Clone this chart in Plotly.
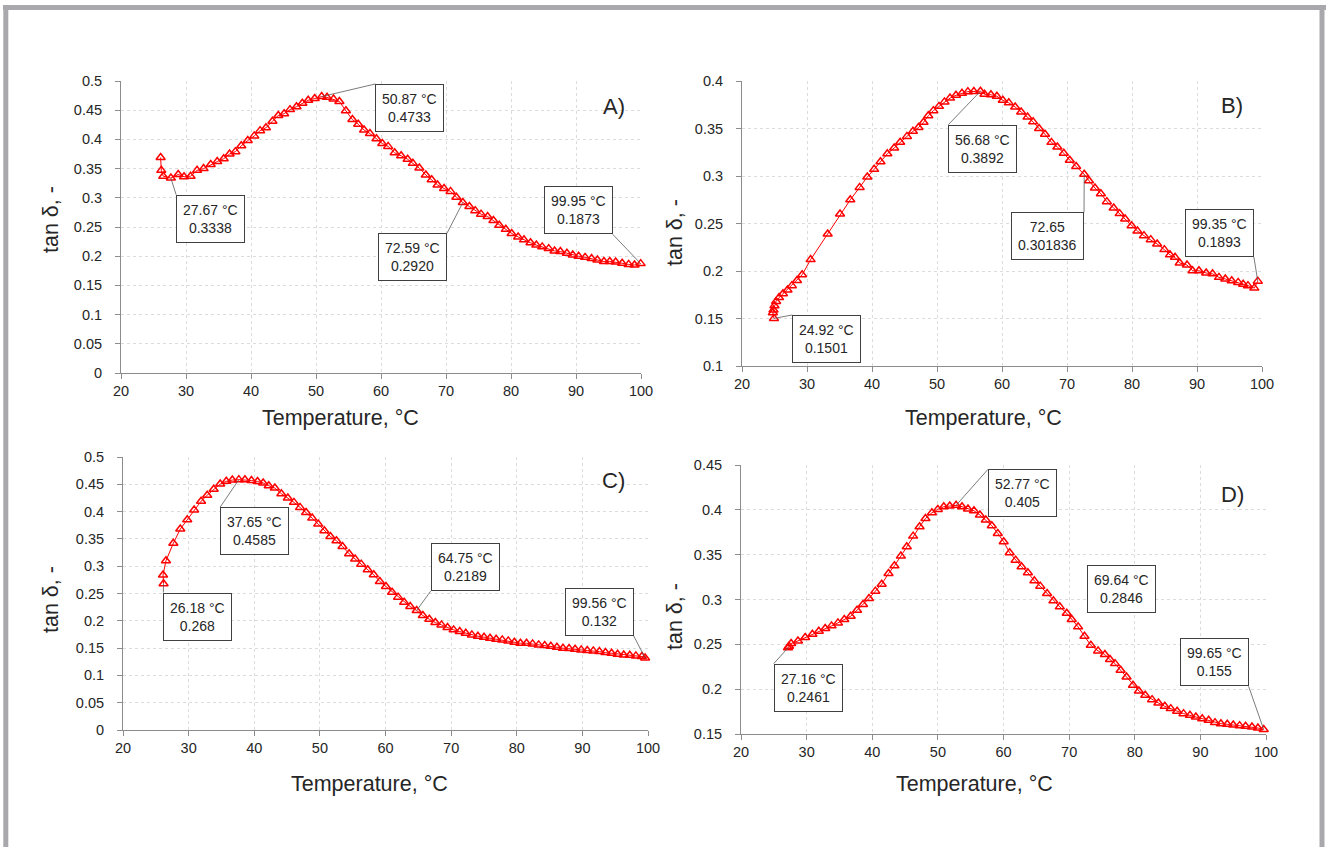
import plotly.graph_objects as go

W, H = 1327, 847

# ---------------- data ----------------
tA = [26.1, 26.2, 26.5, 27.67, 28.8, 29.7, 30.7, 31.7, 32.7, 33.8, 34.8, 35.8, 36.7, 37.6, 38.5,
      39.5, 40.5, 41.4, 42.3, 43.3, 44.2, 45.1, 46.0, 47.0, 47.9, 48.8, 49.8, 50.87, 51.7, 52.7,
      53.6, 54.6, 55.6, 56.5, 57.4, 58.3, 59.3, 60.2, 61.1, 62.1, 63.1, 64.1, 64.9, 65.9, 66.9,
      67.8, 68.7, 69.7, 70.7, 71.6, 72.59, 73.6, 74.5, 75.4, 76.4, 77.3, 78.2, 79.2, 80.1, 81.1,
      82.0, 83.0, 83.9, 84.8, 85.8, 86.7, 87.6, 88.6, 89.5, 90.4, 91.4, 92.4, 93.3, 94.3, 95.2,
      96.1, 97.1, 98.1, 99.0, 99.95]
dA = [0.369, 0.347, 0.337, 0.3338, 0.340, 0.336, 0.337, 0.347, 0.350, 0.357, 0.362, 0.367, 0.375, 0.379, 0.389,
      0.398, 0.406, 0.415, 0.420, 0.431, 0.441, 0.444, 0.451, 0.456, 0.462, 0.467, 0.470, 0.4733, 0.472, 0.469,
      0.465, 0.449, 0.434, 0.426, 0.416, 0.410, 0.401, 0.393, 0.388, 0.377, 0.372, 0.366, 0.359, 0.351, 0.339,
      0.331, 0.322, 0.316, 0.311, 0.301, 0.2920, 0.285, 0.278, 0.272, 0.268, 0.261, 0.253, 0.246, 0.239, 0.233,
      0.228, 0.223, 0.219, 0.216, 0.213, 0.209, 0.208, 0.205, 0.202, 0.200, 0.198, 0.196, 0.1935, 0.191, 0.191,
      0.190, 0.188, 0.186, 0.185, 0.1873]

tB = [24.92, 24.75, 24.85, 25.0, 25.25, 25.7, 26.3, 27.0, 27.67, 28.46, 29.25, 30.56, 33.18, 35.08, 36.66,
      38.10, 39.28, 40.33, 41.31, 42.36, 43.41, 44.33, 45.38, 46.30, 47.15, 47.93, 48.66, 49.44, 50.30, 51.15,
      52.0, 52.92, 53.84, 54.75, 55.67, 56.68, 57.31, 58.30, 59.21, 60.13, 61.05, 62.03, 62.95, 63.93, 64.79,
      65.70, 66.62, 67.61, 68.52, 69.51, 70.43, 71.41, 72.65, 73.38, 74.30, 75.21, 76.13, 77.18, 78.10, 78.95,
      79.93, 80.85, 81.84, 82.89, 83.87, 84.98, 85.84, 86.62, 87.34, 88.46, 89.31, 90.30, 91.41, 92.39, 93.38,
      94.36, 95.34, 96.33, 97.1, 97.84, 98.82, 99.35]
dB = [0.1501, 0.156, 0.159, 0.1635, 0.168, 0.172, 0.176, 0.180, 0.1846, 0.190, 0.196, 0.212, 0.239, 0.260, 0.275,
      0.288, 0.299, 0.307, 0.315, 0.3235, 0.3295, 0.3356, 0.3417, 0.347, 0.351, 0.3565, 0.3635, 0.3688, 0.3733, 0.378,
      0.382, 0.385, 0.387, 0.3888, 0.3890, 0.3892, 0.386, 0.3855, 0.384, 0.3797, 0.377, 0.3726, 0.3674, 0.362, 0.357,
      0.350, 0.344, 0.3354, 0.3305, 0.324, 0.3165, 0.310, 0.301836, 0.295, 0.2874, 0.2814, 0.273, 0.2663, 0.2604, 0.2547,
      0.2477, 0.242, 0.2372, 0.233, 0.2284, 0.2225, 0.217, 0.2144, 0.2084, 0.2063, 0.2003, 0.2003, 0.1979, 0.197, 0.1933,
      0.1916, 0.1898, 0.188, 0.186, 0.1846, 0.182, 0.1893]

tC = [26.18, 26.1, 26.55, 27.67, 28.73, 29.79, 30.84, 31.9, 32.83, 33.82, 34.81, 35.74, 36.66, 37.65, 38.58,
      39.57, 40.5, 41.36, 42.21, 43.14, 44.13, 45.12, 46.05, 46.98, 47.9, 48.83, 49.75, 50.68, 51.6, 52.53,
      53.45, 54.45, 55.37, 56.3, 57.29, 58.21, 59.14, 60.07, 61.0, 61.92, 62.84, 63.77, 64.75, 65.69, 66.68,
      67.6, 68.53, 69.45, 70.38, 71.31, 72.23, 73.16, 74.08, 75.01, 75.93, 76.86, 77.79, 78.71, 79.64, 80.56,
      81.49, 82.41, 83.34, 84.26, 85.19, 86.12, 87.04, 87.97, 88.89, 89.82, 90.74, 91.67, 92.6, 93.52, 94.45,
      95.37, 96.3, 97.22, 98.15, 99.07, 99.56]
dC = [0.268, 0.284, 0.310, 0.342, 0.368, 0.385, 0.403, 0.419, 0.430, 0.441, 0.4505, 0.4555, 0.4578, 0.4585, 0.4582,
      0.457, 0.4552, 0.4525, 0.4474, 0.4431, 0.4328, 0.4248, 0.4169, 0.4077, 0.3985, 0.3881, 0.3771, 0.3649, 0.3545, 0.3466,
      0.3362, 0.3227, 0.313, 0.3038, 0.2934, 0.2842, 0.272, 0.2628, 0.2524, 0.2433, 0.2341, 0.2262, 0.2189, 0.2097, 0.2029,
      0.1968, 0.1925, 0.1877, 0.1834, 0.1803, 0.1773, 0.1742, 0.1718, 0.1700, 0.1681, 0.1663, 0.1650, 0.1632, 0.1608, 0.1589,
      0.1589, 0.1577, 0.1559, 0.1546, 0.1534, 0.1516, 0.1498, 0.1491, 0.1479, 0.1467, 0.1455, 0.1449, 0.1436, 0.1418, 0.1406,
      0.1388, 0.1375, 0.1369, 0.1357, 0.1345, 0.132]

tD = [27.16, 27.32, 27.64, 28.68, 29.78, 30.88, 31.85, 32.83, 33.8, 34.77, 35.74, 36.71, 37.68, 38.59, 39.5,
      40.47, 41.44, 42.48, 43.38, 44.36, 45.26, 46.23, 47.21, 48.11, 49.09, 49.99, 50.9, 51.81, 52.77, 53.68,
      54.59, 55.5, 56.41, 57.31, 58.22, 59.13, 60.03, 60.94, 61.85, 62.75, 63.72, 64.7, 65.6, 66.64, 67.61,
      68.58, 69.64, 70.4, 71.37, 72.34, 73.31, 74.41, 75.45, 76.23, 77.0, 77.85, 78.75, 79.73, 80.63, 81.6,
      82.64, 83.61, 84.58, 85.49, 86.46, 87.43, 88.41, 89.31, 90.28, 91.26, 92.23, 93.13, 94.1, 95.01, 95.98,
      96.89, 97.86, 98.77, 99.65]
dD = [0.2461, 0.2479, 0.2509, 0.2538, 0.2576, 0.2613, 0.2646, 0.2676, 0.2706, 0.2739, 0.2777, 0.2814, 0.2881, 0.2944, 0.3011,
      0.3093, 0.3171, 0.329, 0.3376, 0.3484, 0.3588, 0.3707, 0.3811, 0.3904, 0.3967, 0.4005, 0.4035, 0.4042, 0.405, 0.4035,
      0.4009, 0.399, 0.3942, 0.3886, 0.3823, 0.3737, 0.3644, 0.3521, 0.3439, 0.3365, 0.3298, 0.3208, 0.3149, 0.3067, 0.2985,
      0.2918, 0.2846, 0.2777, 0.2695, 0.2591, 0.249, 0.2427, 0.2386, 0.233, 0.2285, 0.2211, 0.2136, 0.2043, 0.198, 0.1932,
      0.1883, 0.1846, 0.1809, 0.1783, 0.1753, 0.1727, 0.1708, 0.169, 0.1671, 0.1653, 0.1627, 0.1615, 0.1608, 0.16, 0.1593,
      0.1586, 0.1578, 0.1567, 0.155]

panel_labels = ["A)", "B)", "C)", "D)"]
x_title = "Temperature, °C"
y_title = "tan δ, -"
x_range = [20, 100]
y_ranges = [[0, 0.5], [0.1, 0.4], [0, 0.5], [0.15, 0.45]]

# callouts: (point T, point value, box-corner T, box-corner value, xanchor, yanchor, leader)
callA = [(50.87, 0.4733, 59.13, 0.4949, "left", "top", True),
         (27.67, 0.3338, 28.48, 0.3054, "left", "top", True),
         (72.59, 0.2920, 70.15, 0.2392, "right", "top", True),
         (99.95, 0.1873, 95.66, 0.2374, "right", "bottom", True)]
textA = ["50.87 °C<br>0.4733", "27.67 °C<br>0.3338", "72.59 °C<br>0.2920", "99.95 °C<br>0.1873"]
callB = [(56.68, 0.3892, 51.74, 0.354, "left", "top", True),
         (24.92, 0.1501, 27.74, 0.1537, "left", "top", True),
         (72.65, 0.301836, 72.62, 0.2618, "right", "top", True),
         (99.35, 0.1893, 98.75, 0.2147, "right", "bottom", True)]
textB = ["56.68 °C<br>0.3892", "24.92 °C<br>0.1501", "72.65<br>0.301836", "99.35 °C<br>0.1893"]
callC = [(37.65, 0.4585, 34.81, 0.4083, "left", "top", True),
         (26.18, 0.268, 26.15, 0.2518, "left", "top", True),
         (64.75, 0.2189, 66.88, 0.2543, "left", "bottom", True),
         (99.56, 0.132, 97.82, 0.1724, "right", "bottom", True)]
textC = ["37.65 °C<br>0.4585", "26.18 °C<br>0.268", "64.75 °C<br>0.2189", "99.56 °C<br>0.132"]
callD = [(52.77, 0.405, 57.64, 0.4452, "left", "top", True),
         (27.16, 0.2461, 24.99, 0.2285, "left", "top", True),
         (69.64, 0.2846, 77.94, 0.3112, "center", "middle", False),
         (99.65, 0.155, 97.35, 0.2032, "right", "bottom", True)]
textD = ["52.77 °C<br>0.405", "27.16 °C<br>0.2461", "69.64 °C<br>0.2846", "99.65 °C<br>0.155"]
label_pos = [(95.8, 0.457), (95.34, 0.374), (94.78, 0.457), (94.82, 0.4172)]

# ---------------- layout geometry (pixels) ----------------
boxes = [(121, 641, 81, 373), (742, 1262, 81, 366), (123, 648, 457, 730), (741, 1266, 465, 734)]
xtitle_pos = [(341, 418), (983, 418), (369, 784), (974, 784)]
ytitle_pos = [(51, 220), (675, 233), (51, 600), (675, 617)]

FONT = "Liberation Sans, Arial, sans-serif"
TXT = "#262626"
RED = "#ff0000"


def px(x):
    return x / W


def py(y):
    return 1 - y / H


fig = go.Figure()
series = [(tA, dA), (tB, dB), (tC, dC), (tD, dD)]
for i, (t, d) in enumerate(series):
    sfx = "" if i == 0 else str(i + 1)
    fig.add_trace(go.Scatter(
        x=t, y=d, mode="lines+markers", xaxis="x" + sfx, yaxis="y" + sfx,
        line=dict(color=RED, width=1),
        marker=dict(symbol="triangle-up-open", size=8, color=RED, line=dict(color=RED, width=1.5)),
        showlegend=False, cliponaxis=False))

layout = dict(width=W, height=H, margin=dict(l=0, r=0, t=0, b=0),
              paper_bgcolor="white", plot_bgcolor="white", showlegend=False,
              font=dict(family=FONT, color=TXT, size=14))

axis_common = dict(showline=True, linecolor="#8c8c8c", linewidth=1, ticks="outside", ticklen=5,
                   tickcolor="#8c8c8c", showgrid=True, gridcolor="#dcdcdc", griddash="dot",
                   gridwidth=1, zeroline=False, automargin=False,
                   tickfont=dict(family=FONT, size=14.5, color=TXT), fixedrange=True)

for i, (x0, x1, y0, y1) in enumerate(boxes):
    sfx = "" if i == 0 else str(i + 1)
    layout["xaxis" + sfx] = dict(axis_common, domain=[px(x0), px(x1)], range=x_range, dtick=10, tick0=20,
                                 anchor="y" + sfx)
    layout["yaxis" + sfx] = dict(axis_common, domain=[py(y1), py(y0)], range=y_ranges[i], dtick=0.05,
                                 tick0=0, anchor="x" + sfx, ticklabelstandoff=10)

fig.update_layout(**layout)

box_style = dict(bordercolor="#404040", borderwidth=1, borderpad=6, bgcolor="white",
                 font=dict(family=FONT, size=14, color=TXT), align="center")

annotations = []
for i, (calls, texts) in enumerate([(callA, textA), (callB, textB), (callC, textC), (callD, textD)]):
    sfx = "" if i == 0 else str(i + 1)
    for (xt, yt, lx, ly, xa, ya, leader), txt in zip(calls, texts):
        if leader:
            annotations.append(dict(
                box_style, x=xt, y=yt, xref="x" + sfx, yref="y" + sfx, ax=lx, ay=ly,
                axref="x" + sfx, ayref="y" + sfx, xanchor=xa, yanchor=ya, text=txt,
                showarrow=True, arrowhead=0, arrowwidth=0.8, arrowcolor="#595959", standoff=0))
        else:
            annotations.append(dict(
                box_style, x=lx, y=ly, xref="x" + sfx, yref="y" + sfx, xanchor=xa, yanchor=ya,
                text=txt, showarrow=False))
    lxp, lyp = label_pos[i]
    annotations.append(dict(x=lxp, y=lyp, xref="x" + sfx, yref="y" + sfx, text=panel_labels[i],
                            xanchor="center", yanchor="middle",
                            showarrow=False, font=dict(family=FONT, size=22, color=TXT)))
    cx, cy = xtitle_pos[i]
    annotations.append(dict(x=px(cx), y=py(cy), xref="paper", yref="paper", text=x_title,
                            xanchor="center", yanchor="middle",
                            showarrow=False, font=dict(family=FONT, size=21.5, color=TXT)))
    cx, cy = ytitle_pos[i]
    annotations.append(dict(x=px(cx), y=py(cy), xref="paper", yref="paper", text=y_title,
                            xanchor="center", yanchor="middle",
                            showarrow=False, textangle=-90, font=dict(family=FONT, size=21.5, color=TXT)))

fig.update_layout(annotations=annotations)

# outer frame (gray, open at bottom)
frame_col = "#a9a9ad"
fig.add_shape(type="line", xref="paper", yref="paper", x0=px(3), x1=px(1326), y0=py(7.5), y1=py(7.5),
              line=dict(color=frame_col, width=5))
fig.add_shape(type="line", xref="paper", yref="paper", x0=px(5.8), x1=px(5.8), y0=py(5), y1=py(H + 5),
              line=dict(color=frame_col, width=5))
fig.add_shape(type="line", xref="paper", yref="paper", x0=px(1322), x1=px(1322), y0=py(5), y1=py(H + 5),
              line=dict(color=frame_col, width=5))

fig.write_html("out.html", config={"displayModeBar": False},
               post_script="document.body.style.margin='0';document.body.style.overflow='hidden';")
